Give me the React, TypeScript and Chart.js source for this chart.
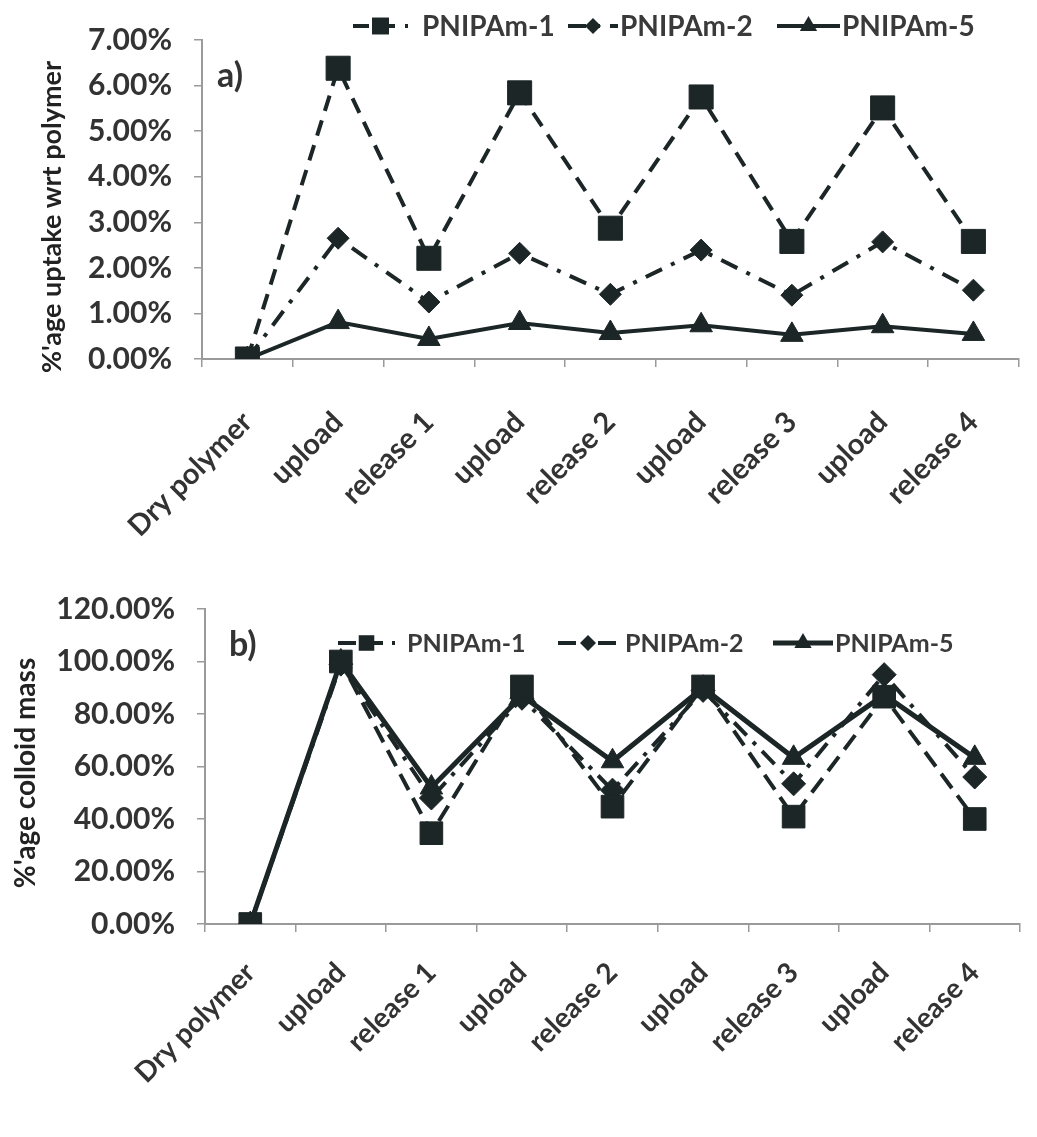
import React, { useEffect, useRef } from "react";
import { Chart, registerables } from "chart.js";

Chart.register(...registerables);

// ---------- data ----------
const categories = [
  "Dry polymer",
  "upload",
  "release 1",
  "upload",
  "release 2",
  "upload",
  "release 3",
  "upload",
  "release 4",
];
const seriesNames = ["PNIPAm-1", "PNIPAm-2", "PNIPAm-5"];

// panel a) %'age uptake wrt polymer (percent)
const uptakePNIPAm1 = [0, 6.38, 2.21, 5.84, 2.87, 5.75, 2.58, 5.51, 2.58];
const uptakePNIPAm2 = [0, 2.65, 1.25, 2.32, 1.42, 2.39, 1.4, 2.57, 1.51];
const uptakePNIPAm5 = [0, 0.81, 0.44, 0.79, 0.57, 0.74, 0.53, 0.72, 0.55];
const uptakeTicks = [0, 1, 2, 3, 4, 5, 6, 7];

// panel b) %'age colloid mass (percent)
const colloidPNIPAm1 = [0, 100, 34.6, 90.5, 44.7, 90.5, 40.9, 86.6, 40];
const colloidPNIPAm2 = [0, 99, 48, 86, 51, 89, 53.4, 95, 56];
const colloidPNIPAm5 = [0, 100, 52, 87, 62, 90, 63.3, 87.3, 63.3];
const colloidTicks = [0, 20, 40, 60, 80, 100, 120];

// ---------- styles ----------
const INK = "#1c2626";
const TEXT = "#333333";
const AXIS = "#9a9a9a";
const FONT = "Lato, 'Open Sans', sans-serif";

type SeriesStyle = {
  pointStyle: "rect" | "rectRot" | "triangle";
  radius: number;
  legendRadius: number;
  dash: number[];
  width: number;
};

const stylesA: SeriesStyle[] = [
  { pointStyle: "rect", radius: 17, legendRadius: 12, dash: [16, 10], width: 4 },
  { pointStyle: "rectRot", radius: 11, legendRadius: 8, dash: [18, 10, 4, 10], width: 4 },
  { pointStyle: "triangle", radius: 13, legendRadius: 10, dash: [], width: 4 },
];
const stylesB: SeriesStyle[] = [
  { pointStyle: "rect", radius: 16, legendRadius: 11, dash: [18, 9], width: 4 },
  { pointStyle: "rectRot", radius: 12, legendRadius: 8, dash: [18, 9, 4, 9], width: 4 },
  { pointStyle: "triangle", radius: 13, legendRadius: 10, dash: [], width: 5 },
];

type LegendItem = { sx: number; sw: number; tx: number };
type Overlay = {
  panel: string;
  panelX: number;
  panelY: number;
  panelSize: number;
  yTitle: string;
  yTitleX: number;
  yTitleY: number;
  yTitleSize: number;
  legendY: number;
  legendSize: number;
  items: LegendItem[];
  styles: SeriesStyle[];
};

function drawMarker(ctx: CanvasRenderingContext2D, style: string, x: number, y: number, r: number) {
  ctx.beginPath();
  if (style === "rect") {
    const s = Math.SQRT1_2 * r;
    ctx.rect(x - s, y - s, 2 * s, 2 * s);
  } else if (style === "rectRot") {
    ctx.moveTo(x - r, y);
    ctx.lineTo(x, y - r);
    ctx.lineTo(x + r, y);
    ctx.lineTo(x, y + r);
    ctx.closePath();
  } else {
    let rad = 0;
    ctx.moveTo(x + Math.sin(rad) * r, y - Math.cos(rad) * r);
    rad += (2 * Math.PI) / 3;
    ctx.lineTo(x + Math.sin(rad) * r, y - Math.cos(rad) * r);
    rad += (2 * Math.PI) / 3;
    ctx.lineTo(x + Math.sin(rad) * r, y - Math.cos(rad) * r);
    ctx.closePath();
  }
  ctx.fillStyle = INK;
  ctx.fill();
}

function overlayPlugin(o: Overlay) {
  return {
    id: "overlay" + o.panel,
    afterDraw(chart: any) {
      const ctx: CanvasRenderingContext2D = chart.ctx;
      ctx.save();
      // panel label
      ctx.fillStyle = TEXT;
      ctx.font = `bold ${o.panelSize}px ${FONT}`;
      ctx.textAlign = "left";
      ctx.textBaseline = "middle";
      ctx.fillText(o.panel, o.panelX, o.panelY);
      // y title
      ctx.save();
      ctx.translate(o.yTitleX, o.yTitleY);
      ctx.rotate(-Math.PI / 2);
      ctx.font = `bold ${o.yTitleSize}px ${FONT}`;
      ctx.textAlign = "center";
      ctx.textBaseline = "middle";
      ctx.fillStyle = "#222222";
      ctx.fillText(o.yTitle, 0, 0);
      ctx.restore();
      // legend
      o.items.forEach((it, i) => {
        const st = o.styles[i];
        ctx.save();
        ctx.strokeStyle = INK;
        ctx.lineWidth = st.width;
        ctx.setLineDash(st.dash);
        ctx.beginPath();
        ctx.moveTo(it.sx, o.legendY);
        ctx.lineTo(it.sx + it.sw, o.legendY);
        ctx.stroke();
        ctx.restore();
        drawMarker(ctx, st.pointStyle, it.sx + it.sw / 2, o.legendY, st.legendRadius);
        ctx.fillStyle = "#3a3a3a";
        ctx.font = `bold ${o.legendSize}px ${FONT}`;
        ctx.textAlign = "left";
        ctx.textBaseline = "middle";
        ctx.fillText(seriesNames[i], it.tx, o.legendY + 1);
      });
      ctx.restore();
    },
  };
}

type PanelProps = {
  top: number;
  height: number;
  series: number[][];
  ticks: number[];
  styles: SeriesStyle[];
  overlay: Overlay;
  padTop: number;
  padRight: number;
  yWidth: number;
  xHeight: number;
  tickFont: number;
  xFont: number;
  xPad: number;
};

function Panel(p: PanelProps) {
  const ref = useRef<HTMLCanvasElement | null>(null);
  useEffect(() => {
    if (!ref.current) return;
    const chart = new Chart(ref.current, {
      type: "line",
      data: {
        labels: categories,
        datasets: p.series.map((vals, i) => ({
          label: seriesNames[i],
          data: vals,
          borderColor: INK,
          backgroundColor: INK,
          borderWidth: p.styles[i].width,
          borderDash: p.styles[i].dash,
          pointStyle: p.styles[i].pointStyle,
          pointRadius: p.styles[i].radius,
          pointBackgroundColor: INK,
          pointBorderColor: INK,
          pointBorderWidth: 1,
          tension: 0,
          fill: false,
        })),
      },
      options: {
        responsive: false,
        animation: false,
        events: [],
        layout: { padding: { top: p.padTop, right: p.padRight, bottom: 0, left: 0 } },
        plugins: { legend: { display: false }, tooltip: { enabled: false }, title: { display: false } },
        scales: {
          x: {
            type: "category",
            offset: true,
            grid: {
              display: true,
              drawOnChartArea: false,
              drawTicks: true,
              tickLength: 8,
              color: AXIS,
              lineWidth: 1.5,
              offset: true,
            },
            border: { display: true, color: AXIS, width: 2 },
            ticks: {
              autoSkip: false,
              maxRotation: 45,
              minRotation: 45,
              padding: p.xPad,
              color: TEXT,
              font: { family: FONT, size: p.xFont, weight: "bold" },
            },
            afterFit: (s: any) => {
              s.height = p.xHeight;
            },
          },
          y: {
            min: p.ticks[0],
            max: p.ticks[p.ticks.length - 1],
            afterBuildTicks: (s: any) => {
              s.ticks = p.ticks.map((v) => ({ value: v }));
            },
            grid: {
              display: true,
              drawOnChartArea: false,
              drawTicks: true,
              tickLength: 8,
              color: AXIS,
              lineWidth: 1.5,
            },
            border: { display: true, color: AXIS, width: 2 },
            ticks: {
              padding: 22,
              color: TEXT,
              font: { family: FONT, size: p.tickFont, weight: "bold" },
              callback: (v: any) => Number(v).toFixed(2) + "%",
            },
            afterFit: (s: any) => {
              s.width = p.yWidth;
            },
          },
        },
      },
      plugins: [overlayPlugin(p.overlay)],
    } as any);
    return () => chart.destroy();
  }, []);
  return (
    <canvas
      ref={ref}
      width={1037}
      height={p.height}
      style={{ position: "absolute", left: 0, top: p.top, width: 1037, height: p.height }}
    />
  );
}

const overlayA: Overlay = {
  panel: "a)",
  panelX: 217,
  panelY: 76,
  panelSize: 34,
  yTitle: "%'age uptake wrt polymer",
  yTitleX: 52,
  yTitleY: 217,
  yTitleSize: 27,
  legendY: 26,
  legendSize: 28,
  items: [
    { sx: 353, sw: 55, tx: 422 },
    { sx: 568, sw: 50, tx: 620 },
    { sx: 777, sw: 63, tx: 842 },
  ],
  styles: stylesA,
};

const overlayB: Overlay = {
  panel: "b)",
  panelX: 229,
  panelY: 100,
  panelSize: 34,
  yTitle: "%'age colloid mass",
  yTitleX: 26,
  yTitleY: 228,
  yTitleSize: 28,
  legendY: 98,
  legendSize: 25,
  items: [
    { sx: 338, sw: 57, tx: 407 },
    { sx: 558, sw: 60, tx: 625 },
    { sx: 773, sw: 60, tx: 835 },
  ],
  styles: stylesB,
};

export default function App() {
  useEffect(() => {
    document.body.style.margin = "0";
    document.body.style.background = "#ffffff";
  }, []);
  return (
    <div style={{ position: "absolute", left: 0, top: 0, width: 1037, height: 1137, background: "#ffffff" }}>
      <Panel
        top={0}
        height={545}
        series={[uptakePNIPAm1, uptakePNIPAm2, uptakePNIPAm5]}
        ticks={uptakeTicks}
        styles={stylesA}
        overlay={overlayA}
        padTop={39}
        padRight={16}
        yWidth={202}
        xHeight={186}
        tickFont={30}
        xFont={29}
        xPad={38}
      />
      <Panel
        top={545}
        height={592}
        series={[colloidPNIPAm1, colloidPNIPAm2, colloidPNIPAm5]}
        ticks={colloidTicks}
        styles={stylesB}
        overlay={overlayB}
        padTop={64}
        padRight={17}
        yWidth={205}
        xHeight={213}
        tickFont={30}
        xFont={28}
        xPad={24}
      />
    </div>
  );
}
